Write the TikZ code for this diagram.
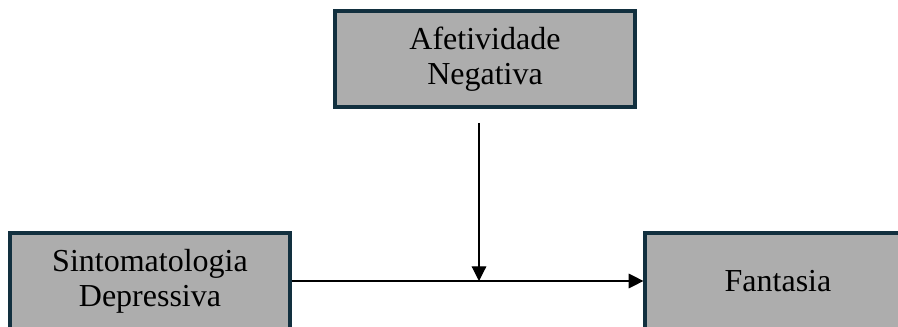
\documentclass[tikz,border=0pt]{standalone}
\usepackage{fontspec}
\setmainfont{Liberation Serif}
\usepackage{xcolor}
\usepackage{tikz}
\usetikzlibrary{arrows.meta}
\usetikzlibrary{positioning}
\definecolor{boxgray}{HTML}{ADADAD}
\definecolor{boxedge}{HTML}{12303F}
\tikzstyle{block} = [rectangle, draw=boxedge, line width=2.4pt, fill=boxgray,
    align=center, minimum height=72pt, inner sep=0pt,
    font=\fontsize{24}{26.5}\selectfont]
\tikzstyle{line} = [draw, line width=0.9pt, -{Triangle[length=11pt,width=11pt]}]

\begin{document}
\begin{tikzpicture}[x=0.75pt, y=-0.75pt, node distance=471pt]
  % Frame of the picture
  \useasboundingbox (0,0) rectangle (898,327);
  \clip (0,0) rectangle (898,327);

  % Place nodes
  \node [block, minimum width=210pt] (sintomas) at (150,281) {Sintomatologia\\Depressiva};
  \node [block, minimum width=199.5pt, right of=sintomas] (fantasia) {Fantasia};
  \node [block, minimum width=225pt] (afetividade) at (485,59) {Afetividade\\Negativa};
  \coordinate (moderador) at (479,123);

  % Draw edges
  \path [line] (sintomas.east) -- (fantasia.west);
  \path [line] (moderador) -- (moderador |- sintomas.east);
\end{tikzpicture}
\end{document}
